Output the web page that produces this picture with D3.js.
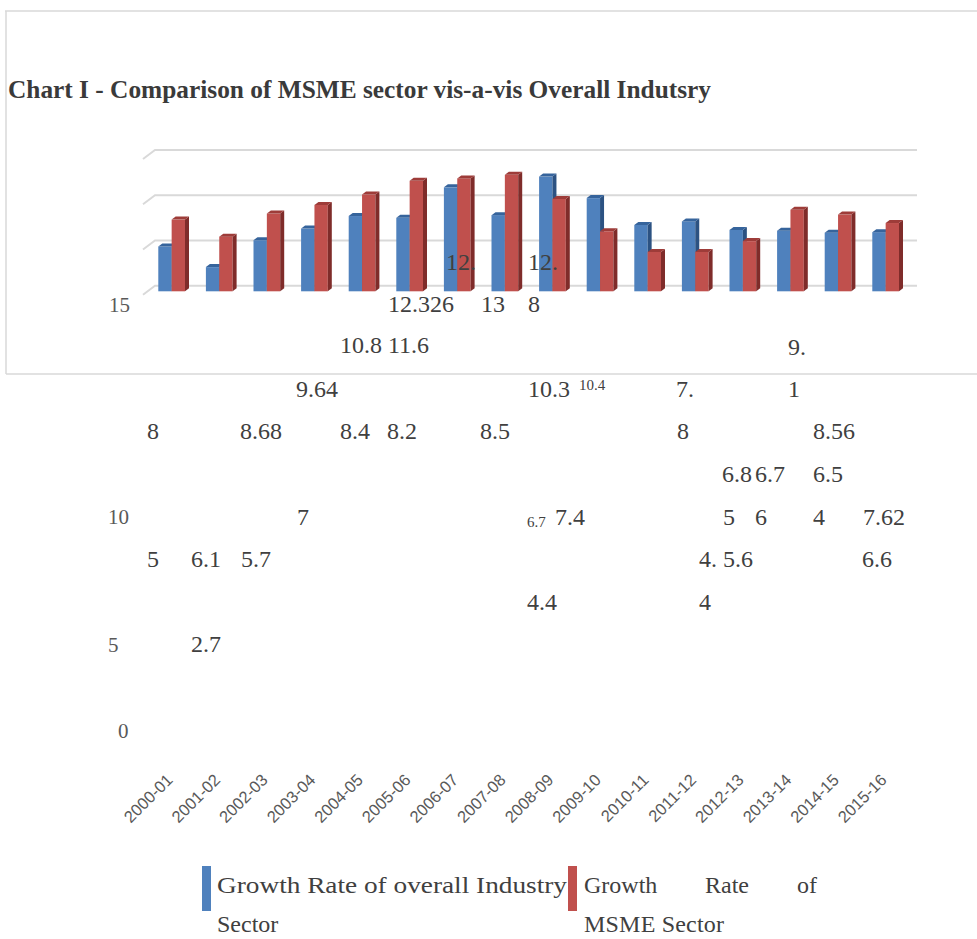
<!DOCTYPE html>
<html>
<head>
<meta charset="utf-8">
<script src="https://cdn.jsdelivr.net/npm/d3@7"></script>
<style>
  body { margin: 0; background: #fff; }
  svg { display: block; }
</style>
</head>
<body>
<script>
// Financial years on the category axis
var years = ["2000-01", "2001-02", "2002-03", "2003-04", "2004-05", "2005-06", "2006-07", "2007-08",
             "2008-09", "2009-10", "2010-11", "2011-12", "2012-13", "2013-14", "2014-15", "2015-16"];

// Growth rate of overall industry (%)
var industry = [5, 2.7, 5.7, 7, 8.4, 8.2, 11.6, 8.5, 12.8, 10.4, 7.4, 7.8, 6.85, 6.76, 6.54, 6.6];

// Growth rate of MSME sector (%)
var msme = [8, 6.1, 8.68, 9.64, 10.8, 12.33, 12.6, 13, 10.3, 6.7, 4.4, 4.4, 5.6, 9.1, 8.56, 7.62];

// Gridline values on the back wall
var gridTicks = [0, 5, 10, 15];

// Axis tick labels, as they ended up scattered in the source
var axisLabels = ["15", "10", "5", "0"];

// Data labels, broken apart the way they appear in the source
var valueLabels = ["12.", "12.",
                   "12.326", "13", "8",
                   "10.8", "11.6", "9.",
                   "9.64", "10.3", "10.4", "7.", "1",
                   "8", "8.68", "8.4", "8.2", "8.5", "8", "8.56",
                   "6.8", "6.7", "6.5",
                   "7", "6.7", "7.4", "5", "6", "4", "7.62",
                   "5", "6.1", "5.7", "4.", "5.6", "6.6",
                   "4.4", "4",
                   "2.7"];

var width = 977, height = 939;

var svg = d3.select("body").append("svg")
  .attr("width", width)
  .attr("height", height);

// Frame of the chart area
var frame = svg.append("g")
  .attr("stroke", "#d9d9d9")
  .attr("stroke-width", 1.5);
frame.append("line").attr("x1", 5).attr("y1", 11).attr("x2", width).attr("y2", 11);
frame.append("line").attr("x1", 6).attr("y1", 11).attr("x2", 6).attr("y2", 374);
frame.append("line").attr("x1", 6).attr("y1", 374).attr("x2", width).attr("y2", 374);

// Title
svg.append("text")
  .attr("x", 8)
  .attr("y", 98)
  .attr("font-family", "'Liberation Serif', 'Times New Roman', serif")
  .attr("font-weight", "bold")
  .attr("font-size", 25)
  .attr("fill", "#3a3a3a")
  .attr("textLength", 703)
  .attr("lengthAdjust", "spacingAndGlyphs")
  .text("Chart I - Comparison of MSME sector vis-a-vis Overall Indutsry");

// Scales
var x = d3.scaleBand()
  .domain(years)
  .range([147.85, 909.45])
  .paddingInner(0.439)
  .paddingOuter(0.2195);

var xSeries = d3.scaleBand()
  .domain(["industry", "msme"])
  .range([0, x.bandwidth()]);

// back wall gridlines
var yGrid = d3.scaleLinear().domain([0, 15]).range([285.7, 150]);
// bar fronts sit a little forward of the wall
var yBar = d3.scaleLinear().domain([0, 15]).range([291.3, 156.9]);

// Gridlines with the short floor/wall diagonal on the left
var grid = svg.append("g")
  .attr("fill", "none")
  .attr("stroke", "#d9d9d9")
  .attr("stroke-width", 2);
grid.selectAll("path")
  .data(gridTicks)
  .join("path")
  .attr("d", function (t) {
    var gy = yGrid(t);
    return "M143," + (gy + 9) + "L155," + gy + "L917," + gy;
  });

// 3D bars
var depthX = 4, depthY = 3;
var palette = {
  industry: { front: "#4f81bd", side: "#2c5282", top: "#36649c" },
  msme: { front: "#c0504d", side: "#7f2c2a", top: "#9e3c39" }
};

function drawBar(g, bx, bw, v, colors) {
  var top = yBar(v), bottom = yBar(0);
  g.append("rect")
    .attr("x", bx).attr("y", top)
    .attr("width", bw).attr("height", bottom - top)
    .attr("fill", colors.front);
  g.append("path")
    .attr("d", "M" + (bx + bw) + "," + top +
               "L" + (bx + bw + depthX) + "," + (top - depthY) +
               "L" + (bx + bw + depthX) + "," + (bottom - depthY) +
               "L" + (bx + bw) + "," + bottom + "Z")
    .attr("fill", colors.side);
  g.append("path")
    .attr("d", "M" + bx + "," + top +
               "L" + (bx + depthX) + "," + (top - depthY) +
               "L" + (bx + bw + depthX) + "," + (top - depthY) +
               "L" + (bx + bw) + "," + top + "Z")
    .attr("fill", colors.top);
}

var bars = svg.append("g");
years.forEach(function (yr, i) {
  var g = bars.append("g");
  drawBar(g, x(yr) + xSeries("industry"), xSeries.bandwidth(), industry[i], palette.industry);
  drawBar(g, x(yr) + xSeries("msme"), xSeries.bandwidth(), msme[i], palette.msme);
});

// Axis title, mostly cut off in the source
svg.append("clipPath").attr("id", "titleClip")
  .append("rect").attr("x", 67).attr("y", 300).attr("width", 14).attr("height", 130);
svg.append("text")
  .attr("clip-path", "url(#titleClip)")
  .attr("transform", "translate(80,422) rotate(-90)")
  .attr("font-family", "'Liberation Serif', serif")
  .attr("font-size", 20)
  .attr("fill", "#404040")
  .attr("textLength", 107)
  .text("percentage");

// Scattered axis labels
var axisPos = [[109, 312], [108, 524], [108, 652], [118, 738]];
svg.append("g")
  .attr("font-family", "'Liberation Serif', serif")
  .attr("font-size", 21)
  .attr("fill", "#595959")
  .selectAll("text")
  .data(axisLabels)
  .join("text")
  .attr("x", function (d, i) { return axisPos[i][0]; })
  .attr("y", function (d, i) { return axisPos[i][1]; })
  .text(function (d) { return d; });

// Scattered value labels: [x, baseline, size]
var labelPos = [
  [446, 270, 24], [528, 270, 24],
  [388, 312, 24], [481, 312, 24], [528, 312, 24],
  [340, 353, 24], [388, 353, 24], [788, 355, 24],
  [296, 397, 24], [528, 397, 24], [579, 390, 15], [676, 397, 24], [788, 397, 24],
  [147, 439, 24], [240, 439, 24], [340, 439, 24], [387, 439, 24], [480, 439, 24], [677, 439, 24], [813, 439, 24],
  [722, 482, 24], [755, 482, 24], [813, 482, 24],
  [297, 525, 24], [527, 527, 15], [555, 525, 24], [723, 525, 24], [755, 525, 24], [813, 525, 24], [863, 525, 24],
  [147, 567, 24], [191, 567, 24], [241, 567, 24], [699, 567, 24], [723, 567, 24], [862, 567, 24],
  [527, 610, 24], [699, 610, 24],
  [191, 652, 24]
];
svg.append("g")
  .attr("font-family", "'Liberation Serif', serif")
  .attr("fill", "#404040")
  .selectAll("text")
  .data(valueLabels)
  .join("text")
  .attr("x", function (d, i) { return labelPos[i][0]; })
  .attr("y", function (d, i) { return labelPos[i][1]; })
  .attr("font-size", function (d, i) { return labelPos[i][2]; })
  .text(function (d) { return d; });

// Category axis, far below the bars
var xAxis = svg.append("g")
  .attr("transform", "translate(0,781)")
  .call(d3.axisBottom(x).tickSize(0).tickPadding(0));
xAxis.select(".domain").remove();
xAxis.selectAll("text")
  .attr("font-family", "'Liberation Sans', Arial, sans-serif")
  .attr("font-size", 16.5)
  .attr("fill", "#595959")
  .attr("text-anchor", "end")
  .attr("dy", 0)
  .attr("y", 0)
  .attr("transform", "translate(2,0) rotate(-45)");

// Legend
var legend = svg.append("g")
  .attr("font-family", "'Liberation Serif', serif")
  .attr("font-size", 24)
  .attr("fill", "#404040");
legend.append("rect").attr("x", 202).attr("y", 866).attr("width", 9).attr("height", 45)
  .attr("fill", palette.industry.front);
legend.append("rect").attr("x", 568).attr("y", 866).attr("width", 9).attr("height", 45)
  .attr("fill", palette.msme.front);
legend.append("text").attr("x", 217).attr("y", 893)
  .attr("textLength", 350).attr("lengthAdjust", "spacingAndGlyphs")
  .text("Growth Rate of overall Industry");
legend.append("text").attr("x", 217).attr("y", 932).text("Sector");
legend.append("text").attr("x", 584).attr("y", 893).text("Growth");
legend.append("text").attr("x", 705).attr("y", 893).text("Rate");
legend.append("text").attr("x", 797).attr("y", 893).text("of");
legend.append("text").attr("x", 584).attr("y", 932).attr("textLength", 140).text("MSME  Sector");
</script>
</body>
</html>
